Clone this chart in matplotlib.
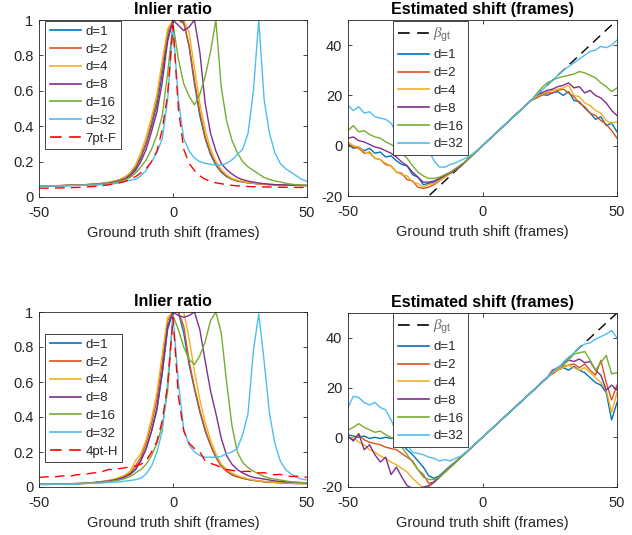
import matplotlib
matplotlib.use("Agg")
import matplotlib.pyplot as plt

plt.rcParams['font.family'] = ['Liberation Sans', 'DejaVu Sans']
plt.rcParams['axes.unicode_minus'] = False
plt.rcParams['mathtext.fontset'] = 'custom'
plt.rcParams['mathtext.it'] = 'Liberation Serif:italic'
plt.rcParams['mathtext.rm'] = 'Liberation Sans'

# ---------------- data ----------------
shift = list(range(-50, 51, 2))  # ground truth shift (frames)
labels = ['d=1', 'd=2', 'd=4', 'd=8', 'd=16', 'd=32']
colors = ['#0072BD', '#D95319', '#EDB120', '#7E2F8E', '#77AC30', '#4DBEEE']

# Top-left: inlier ratio (7pt-F)
ir1_d1 = [.062, .062, .063, .063, .064, .065, .066, .067, .068, .070,
          .072, .074, .077, .080, .086, .095, .107, .127, .16, .22,
          .30, .40, .52, .70, .90, 1.0, 1.0, .99, .85, .64,
          .46, .33, .24, .18, .14, .115, .10, .09, .085, .08,
          .077, .074, .072, .070, .069, .068, .067, .066, .066, .065,
          .065]
ir1_d2 = [.062, .062, .063, .063, .064, .065, .066, .067, .068, .070,
          .072, .074, .077, .081, .088, .098, .112, .132, .17, .23,
          .31, .42, .55, .74, .93, 1.0, 1.0, .98, .86, .66,
          .48, .34, .25, .19, .145, .12, .10, .092, .086, .08,
          .077, .074, .072, .070, .069, .068, .067, .066, .066, .065,
          .065]
ir1_d4 = [.062, .062, .063, .064, .065, .066, .067, .068, .069, .071,
          .073, .075, .078, .083, .090, .098, .112, .137, .18, .25,
          .34, .45, .58, .77, .95, 1.0, 1.0, 1.0, .93, .73,
          .53, .38, .27, .20, .155, .125, .105, .095, .088, .082,
          .078, .075, .073, .071, .070, .069, .068, .067, .066, .066,
          .065]
ir1_d8 = [.062, .062, .063, .063, .064, .065, .066, .067, .068, .069,
          .071, .073, .076, .079, .084, .092, .102, .12, .15, .20,
          .27, .37, .48, .65, .88, 1.0, .97, .94, .96, 1.0,
          .82, .53, .36, .26, .19, .155, .13, .11, .098, .09,
          .084, .079, .075, .072, .070, .069, .068, .067, .066, .066,
          .065]
ir1_d16 = [.062, .062, .063, .063, .064, .065, .066, .067, .068, .069,
           .070, .072, .074, .076, .080, .087, .097, .11, .135, .17,
           .21, .27, .35, .46, .70, .98, .78, .64, .57, .52,
           .58, .68, .82, 1.0, .62, .43, .32, .25, .20, .17,
           .15, .13, .11, .10, .09, .085, .078, .073, .069, .067,
           .065]
ir1_d32 = [.062, .062, .062, .063, .063, .064, .064, .065, .066, .066,
           .067, .068, .070, .072, .075, .08, .087, .095, .10, .12,
           .15, .20, .25, .33, .55, .97, .55, .33, .26, .22,
           .20, .19, .185, .18, .18, .19, .21, .24, .27, .36,
           .60, 1.0, .55, .36, .25, .19, .16, .14, .12, .10,
           .088]
ir1_ref = [.050, .050, .050, .051, .051, .052, .053, .054, .055, .057,
           .059, .062, .065, .069, .074, .08, .088, .10, .115, .135,
           .16, .20, .26, .38, .58, .97, .50, .27, .19, .15,
           .12, .10, .09, .08, .075, .07, .066, .063, .061, .059,
           .058, .057, .057, .056, .056, .055, .055, .055, .054, .054,
           .054]

# Bottom-left: inlier ratio (4pt-H)
ir2_d1 = [.015, .015, .015, .016, .016, .017, .018, .019, .020, .022,
          .024, .027, .030, .035, .040, .048, .058, .075, .10, .15,
          .22, .32, .44, .65, .90, 1.0, 1.0, .88, .70, .56,
          .43, .32, .24, .17, .12, .09, .07, .058, .05, .043,
          .038, .034, .030, .028, .026, .024, .022, .021, .020, .020,
          .020]
ir2_d2 = [.016, .016, .016, .017, .017, .018, .019, .020, .021, .023,
          .025, .028, .032, .037, .043, .052, .063, .08, .12, .17,
          .25, .36, .50, .72, .95, 1.0, 1.0, .92, .72, .57,
          .44, .33, .24, .17, .12, .09, .07, .058, .05, .043,
          .038, .034, .030, .028, .026, .024, .022, .021, .020, .020,
          .020]
ir2_d4 = [.016, .016, .016, .017, .017, .018, .019, .020, .021, .023,
          .025, .028, .032, .038, .045, .055, .068, .09, .15, .19,
          .27, .39, .54, .76, .97, 1.0, 1.0, 1.0, .85, .66,
          .50, .37, .27, .19, .13, .10, .08, .065, .055, .047,
          .040, .036, .032, .029, .027, .025, .023, .022, .021, .020,
          .020]
ir2_d8 = [.015, .015, .015, .016, .016, .017, .018, .019, .020, .022,
          .024, .027, .030, .034, .040, .047, .057, .072, .10, .15,
          .22, .32, .45, .66, .92, 1.0, .98, .97, .98, 1.0,
          .90, .72, .55, .42, .28, .18, .13, .10, .08, .065,
          .055, .050, .045, .040, .035, .032, .030, .028, .026, .025,
          .024]
ir2_d16 = [.015, .015, .015, .016, .016, .017, .018, .019, .020, .021,
           .023, .025, .028, .031, .035, .040, .048, .06, .08, .10,
           .13, .18, .25, .35, .55, .98, .90, .80, .73, .70,
           .75, .83, .95, 1.0, .88, .60, .35, .20, .14, .11,
           .09, .075, .06, .05, .045, .04, .035, .03, .028, .025,
           .024]
ir2_d32 = [.015, .015, .015, .016, .016, .016, .017, .018, .019, .020,
           .021, .022, .024, .026, .028, .030, .033, .037, .042, .05,
           .075, .12, .20, .32, .60, .98, .60, .33, .24, .20,
           .18, .17, .17, .17, .175, .19, .20, .22, .30, .42,
           .78, .99, .72, .42, .25, .15, .10, .075, .055, .045,
           .040]
ir2_ref = [.055, .057, .060, .058, .062, .065, .063, .070, .072, .075,
           .080, .082, .090, .10, .10, .105, .11, .115, .12, .13,
           .15, .20, .26, .38, .58, .97, .52, .32, .25, .22,
           .20, .15, .135, .125, .11, .10, .095, .09, .088, .09,
           .085, .08, .082, .075, .07, .072, .065, .06, .062, .058,
           .055]

# Top-right: estimated shift
sh1_d1 = [0.5, -1, -0.5, -2, -1, -3, -2.5, -4.5, -4, -6,
          -7.5, -8, -11.5, -12.5, -15.5, -15, -14.5, -13.5, -12, -11,
          -9.5, -8, -6, -4, -2, 0, 2, 4, 6, 8,
          10, 12, 14, 16, 18, 19, 20.5, 20, 21, 21.5,
          20, 21.5, 18, 17.5, 15, 13, 10.5, 11.5, 8, 9,
          5.5]
sh1_d2 = [1, -0.5, -1, -3, -2.5, -5, -5.5, -7.5, -8, -10.5,
          -11, -13.5, -14, -16.5, -17, -16.5, -15.5, -14, -12.5, -11,
          -9.7, -8, -6, -4, -2, 0, 2, 4, 6, 8,
          10, 12, 14, 16, 18, 19, 20, 21, 21, 22,
          22.5, 21, 19.5, 17, 15.5, 13, 12, 10, 8.5, 6,
          3]
sh1_d4 = [1.5, 0, -0.5, -2.5, -3, -5, -5.5, -7, -8, -10.5,
          -11.5, -12, -14.5, -15, -16.5, -15.5, -15, -13.8, -12.5, -11,
          -9.5, -8, -6, -4, -2, 0, 2, 4, 6, 8,
          10, 12, 14, 16, 18, 19.5, 20.5, 21.5, 22, 22.5,
          23, 24, 20, 19.5, 17, 16, 14, 13, 10, 9,
          9.5]
sh1_d8 = [3, 3.5, 2, 1.5, 0.5, -0.5, -1, -2, -3, -4.5,
          -6.5, -8, -10.5, -12.5, -14.5, -14.5, -14, -13, -11.8, -10.8,
          -9.5, -8, -6, -4, -2, 0, 2, 4, 6, 8,
          10, 12, 14, 16, 18, 20, 21, 22, 22.5, 23.5,
          24, 25, 23, 23.5, 21, 22, 20, 19, 17, 14,
          12]
sh1_d16 = [6, 8, 5.5, 6, 4.5, 3.5, 3, 1.5, 0.5, -1,
           -3, -5, -8, -10.5, -12, -13, -13, -12.5, -11.5, -10.5,
           -9, -7.5, -6, -4, -2, 0, 2, 4, 6, 8,
           10, 12, 14, 16, 18, 20.5, 23, 25, 26, 27,
           27.5, 28, 28.5, 29.5, 29, 28, 27, 25, 23.5, 21.5,
           23]
sh1_d32 = [16, 14, 15.5, 13, 13.5, 11.5, 11, 10.5, 9, 5,
           8, 7, 6, 4, 1, -2, -6, -8.5, -8.5, -7.5,
           -6.8, -5.8, -4.8, -3.5, -1.8, 0, 2, 4, 6, 8,
           10, 12, 14, 16, 18, 20, 22, 24, 26, 28,
           30, 31.5, 33, 34.5, 36, 37.5, 38, 39.5, 39, 40,
           42]

# Bottom-right: estimated shift
sh2_d1 = [1, 0.5, 0, 0.5, -0.5, 0, -0.5, 0, -0.5, 0,
          -3, -5, -7, -9.5, -12, -15.5, -16.5, -15.5, -13.5, -11.5,
          -9.8, -8, -6, -4, -2, 0, 2, 4, 6, 8,
          10, 12, 14, 16, 18, 20, 22, 24, 26, 27,
          28, 27, 28.5, 27, 26, 24, 22, 21, 18, 7,
          14]
sh2_d2 = [0, -1, 1, -1, -2, -2.5, -3, -4, -4.5, -5,
          -6.5, -8, -9.5, -13, -15, -18.5, -18, -16, -14, -12,
          -10, -8, -6, -4, -2, 0, 2, 4, 6, 8,
          10, 12, 14, 16, 18, 20, 22, 24, 25.5, 27,
          28.5, 29, 29.5, 28, 29.5, 27, 25, 31, 22, 15,
          21]
sh2_d4 = [-0.5, 0, -2, -3, -5, -6, -7.5, -8.5, -10, -11,
          -12.5, -14, -16.5, -18.5, -20.5, -20, -18.2, -16, -14, -12,
          -10, -8, -6, -4, -2, 0, 2, 4, 6, 8,
          10, 12, 14, 16, 18, 20, 22, 24, 26, 27,
          28, 29, 28, 27, 28, 26, 24, 22, 19, 10,
          18]
sh2_d8 = [0.5, -1.5, 1.5, -5, -3, -7, -10, -8, -15, -12,
          -16, -19.5, -20.5, -21, -20, -19.5, -18, -16, -14, -12,
          -10, -8, -6, -4, -2, 0, 2, 4, 6, 8,
          10, 12, 14, 16, 18, 20, 22, 24, 27, 28,
          29.5, 31, 30.5, 31.5, 30, 30.5, 27, 25, 19, 21,
          19]
sh2_d16 = [3, 4, 5.5, 4, 3, 2, 2.5, 1, 0, -1.5,
           -4, -7, -10, -13, -16, -17, -17, -16, -14, -12,
           -10, -8, -6, -4, -2, 0, 2, 4, 6, 8,
           10, 12, 14, 16, 18, 20, 22, 24, 26.5, 28,
           29, 31, 33.5, 34, 34.5, 31, 27, 30, 33, 25.5,
           26]
sh2_d32 = [12, 16.5, 16, 14, 13, 14, 12, 11, 7, 2,
           -0.5, -3, -6, -6.5, -7, -8, -8.5, -9.5, -9, -9.5,
           -8.5, -7.5, -5.8, -3.8, -2, 0, 2, 4, 6, 8,
           10, 12, 14, 16, 18, 20, 22, 24, 26, 28,
           30, 32, 34, 36, 37.5, 38, 39.5, 40.5, 41.5, 43,
           40]

gt_x = [-50, 50]
gt_y = [-50, 50]

# ---------------- figure ----------------
W, H = 632, 535
fig = plt.figure(figsize=(W / 100, H / 100), dpi=100)
axc = '#262626'
FS = 10.5
LFS = 9.5


def axes_px(l, t, r, b):
    return fig.add_axes([l / W, 1 - b / H, (r - l) / W, (b - t) / H])


def style(ax):
    for s in ax.spines.values():
        s.set_color(axc)
        s.set_linewidth(0.6)
    ax.tick_params(direction='in', length=3, width=0.6, colors=axc,
                   labelsize=FS, top=True, right=True)
    ax.tick_params(axis='x', pad=6.5)
    ax.tick_params(axis='y', pad=4)
    ax.set_xlim(-50, 50)
    ax.set_xticks([-50, 0, 50])
    ax.set_xlabel('Ground truth shift (frames)', fontsize=FS, color=axc, labelpad=4)


def legend(ax, lx, ty):
    lg = ax.legend(loc='upper left', bbox_to_anchor=(lx / W, 1 - ty / H),
                   bbox_transform=fig.transFigure, fontsize=LFS,
                   fancybox=False, framealpha=1, edgecolor=axc,
                   borderaxespad=0, handlelength=2.4, handletextpad=0.3,
                   labelspacing=0.42, borderpad=0.35)
    lg.get_frame().set_linewidth(0.6)
    for t in lg.get_texts():
        t.set_color(axc)
    for h in lg.get_lines():
        h.set_linewidth(1.2)
    return lg


LW = 1.0
DASH = (0, (7, 4.5))
ir_sets = [
    ((39, 20, 307, 197), [ir1_d1, ir1_d2, ir1_d4, ir1_d8, ir1_d16, ir1_d32], ir1_ref, '7pt-F', 21),
    ((39, 312, 307, 487), [ir2_d1, ir2_d2, ir2_d4, ir2_d8, ir2_d16, ir2_d32], ir2_ref, '4pt-H', 334),
]
for box, series, ref, reflab, lt in ir_sets:
    ax = axes_px(*box)
    for vals, lab, c in zip(series, labels, colors):
        ax.plot(shift, vals, color=c, lw=LW, label=lab)
    ax.plot(shift, ref, color='#FF0000', lw=1.0, ls=DASH, label=reflab)
    style(ax)
    ax.set_ylim(0, 1)
    ax.set_yticks([0, 0.2, 0.4, 0.6, 0.8, 1])
    ax.set_yticklabels(['0', '0.2', '0.4', '0.6', '0.8', '1'])
    ax.set_title('Inlier ratio', fontsize=11.5, fontweight='bold', pad=4)
    legend(ax, 45, lt)

sh_sets = [
    ((348, 20, 617, 196), [sh1_d1, sh1_d2, sh1_d4, sh1_d8, sh1_d16, sh1_d32], 21),
    ((348, 313, 617, 487), [sh2_d1, sh2_d2, sh2_d4, sh2_d8, sh2_d16, sh2_d32], 313),
]
for box, series, lt in sh_sets:
    ax = axes_px(*box)
    ax.plot(gt_x, gt_y, color='black', lw=LW, ls=DASH, label=r'$\beta_{\rm gt}$')
    for vals, lab, c in zip(series, labels, colors):
        ax.plot(shift, vals, color=c, lw=LW, label=lab)
    style(ax)
    ax.set_ylim(-20, 50)
    ax.set_yticks([-20, 0, 20, 40])
    ax.set_title('Estimated shift (frames)', fontsize=11.5, fontweight='bold', pad=4)
    lg = legend(ax, 393, lt)
    lg.get_texts()[0].set_color('#6e6e6e')
    lg.get_texts()[0].set_fontsize(11)

fig.savefig('out.png', dpi=100)
